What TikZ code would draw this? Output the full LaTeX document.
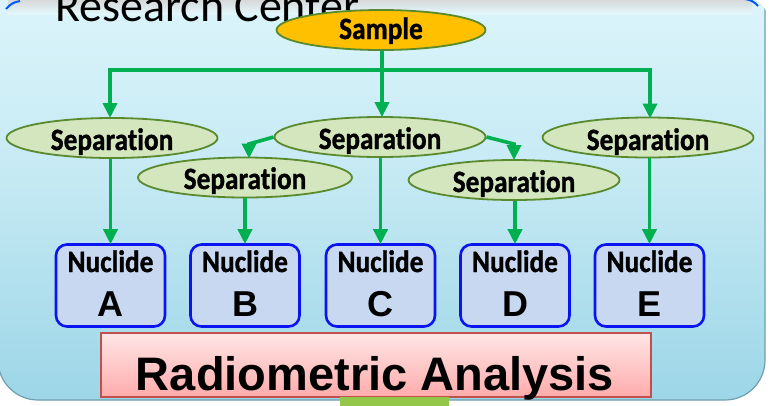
\documentclass[tikz,border=0pt]{standalone}
\usepackage{fontspec}
\setmainfont{Carlito}
\newfontfamily\arialf{Liberation Sans}
\newfontfamily\lblfont[FakeBold=1.2, Ligatures=NoCommon]{Carlito Bold}
\usetikzlibrary{arrows.meta,shapes.geometric}
\definecolor{gline}{HTML}{00B050}
\definecolor{panelTop}{HTML}{E3F8FD}
\definecolor{panelMid}{HTML}{C6EAF4}
\definecolor{panelBot}{HTML}{9DD6E7}
\definecolor{panelEdge}{HTML}{6E9FAE}
\definecolor{sepFill}{HTML}{D3E6BE}
\definecolor{sepEdge}{HTML}{5A8A2E}
\definecolor{sampFill}{HTML}{FFC000}
\definecolor{nucFill}{HTML}{C9D8F1}
\definecolor{nucEdge}{HTML}{0A14F0}
\definecolor{radTop}{HTML}{FFE6E6}
\definecolor{radBot}{HTML}{FFABAB}
\definecolor{radEdge}{HTML}{C0504D}
\definecolor{barGreen}{HTML}{92C74A}
\newcommand{\sqz}[1]{\scalebox{0.88}[1]{#1}}
\tikzset{
  sepn/.style={ellipse, draw=sepEdge, line width=1.8pt, fill=sepFill, minimum width=211pt, minimum height=40pt, inner sep=0pt},
  sampn/.style={ellipse, draw=sepEdge, line width=1.8pt, fill=sampFill, minimum width=209pt, minimum height=40pt, inner sep=0pt},
  lbl/.style={inner sep=0pt, anchor=base, font=\lblfont\fontsize{31}{31}\selectfont},
  nucn/.style={draw=nucEdge, line width=2.6pt, fill=nucFill, rounded corners=11pt, minimum width=109pt, minimum height=82pt, inner sep=0pt},
  nuclbl/.style={inner sep=0pt, anchor=base, font=\lblfont\fontsize{31}{31}\selectfont},
  letlbl/.style={inner sep=0pt, anchor=base, font=\arialf\fontsize{36}{36}\selectfont\bfseries},
  gl/.style={draw=gline, line width=3.6pt},
  ga/.style={gl, -{Triangle[width=14pt,length=15pt]}, shorten >=-1pt},
}
\begin{document}
\begin{tikzpicture}[x=1pt,y=-1pt]
\useasboundingbox (0,0) rectangle (770,405);
% panel
\fill[white] (0,0) rectangle (770,405);
\shade[top color=panelTop, bottom color=panelBot, middle color=panelMid, draw=panelEdge, line width=1.2pt, rounded corners=40pt]
  (-2,-60) rectangle (765,400);
\shade[top color=black!16, bottom color=panelTop] (8,-1) rectangle (752,14);
\draw[blue!65!cyan, line width=2pt] (6,9) to[bend left=20] (20,1);
\draw[blue!65!cyan, line width=2pt] (745,-1) to[bend left=20] (758,6);
\fill[white] (756,0) -- (770,0) -- (770,25) to[bend right=25] (756,0);
% title
\node[inner sep=0pt, anchor=base west, font=\fontsize{46}{46}\selectfont] (title) at (55,21) {Research Center};
% sample
\node[sampn] (samp) at (381,30) {};
\node[lbl] (sampt) at (381,39) {\sqz{Sample}};
% separations
\node[sepn] (s1) at (112,138) {};
\node[sepn] (s2) at (380,137) {};
\node[sepn] (s3) at (648,137.5) {};
\node[sepn, minimum width=214pt] (s4) at (245,177.5) {};
\node[sepn] (s5) at (514,180) {};
\node[lbl] (s1t) at (112,150) {\sqz{Separation}};
\node[lbl] (s2t) at (380,149) {\sqz{Separation}};
\node[lbl] (s3t) at (648,150) {\sqz{Separation}};
\node[lbl] (s4t) at (245,189) {\sqz{Separation}};
\node[lbl] (s5t) at (514,192) {\sqz{Separation}};
% nuclides
\foreach \n/\x/\L in {a/110.5/A, b/245/B, c/380.5/C, d/515/D, e/649.5/E}{
  \node[nucn] (\n) at (\x,285.5) {};
  \node[nuclbl] (\n t) at (\x,272) {\sqz{Nuclide}};
  \node[letlbl] (\n l) at (\x,316) {\L};
}
% radiometric
\node[draw=radEdge, line width=1.4pt, top color=radTop, bottom color=radBot, minimum width=550pt, minimum height=64pt, inner sep=0pt] (rad) at (376,365) {};
\node[inner sep=0pt, anchor=base, font=\arialf\fontsize{47}{47}\selectfont\bfseries] (radt) at (375,390) {Radiometric Analysis};
\fill[barGreen] (340,397) rectangle (449,406);
% connectors
\coordinate (j0) at (382,70);
\draw[gl] (samp.south -| j0) -- (j0);
\draw[gl] (110,70) -- (651,70);
\draw[ga] (110,68.2) -- (110,117);
\draw[ga] (382,70) -- (s2.north -| 382,0);
\draw[ga] (650,68.2) -- (650,117.5);
\draw[ga] (s2.west) -- (249,144) -- (249,157.5);
\draw[ga] (s2.east) -- (514,144) -- (s5.north);
\draw[ga] (a.north |- s1.south) -- (a.north);
\draw[ga] (b.north |- s4.south) -- (b.north);
\draw[ga] (c.north |- s2.south) -- (c.north);
\draw[ga] (d.north |- s5.south) -- (d.north);
\draw[ga] (e.north |- s3.south) -- (e.north);
\end{tikzpicture}
\end{document}
